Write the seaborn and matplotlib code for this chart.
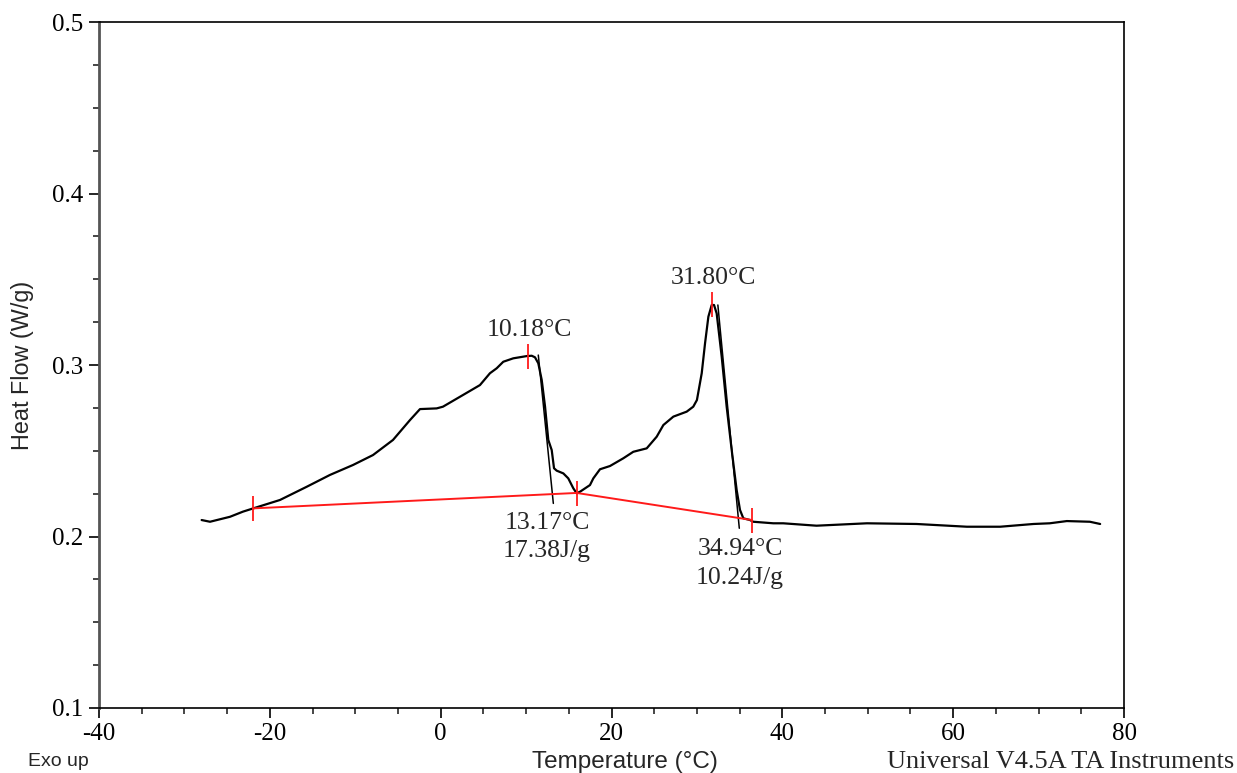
import numpy as np
import pandas as pd
import matplotlib
matplotlib.use("Agg")
import matplotlib.pyplot as plt
from matplotlib.ticker import MultipleLocator
import seaborn as sns

# DSC heating curve: temperature (°C) and heat flow (W/g)
temperature = [
    -27.98, -27.0, -24.66, -23.14, -21.94, -18.81, -15.68, -12.96, -10.26, -7.92,
    -5.58, -3.59, -2.42, -0.47, 0.27, 2.61, 4.60, 5.77, 6.56, 7.33,
    8.50, 10.07, 10.66, 11.04, 11.43, 11.83, 12.22, 12.60, 13.00, 13.27,
    13.58, 14.36, 14.94, 15.53, 15.92, 16.31, 17.48, 17.87, 18.65, 19.82,
    21.38, 22.55, 24.12, 25.29, 26.07, 27.24, 28.80, 29.57, 30.0, 30.56,
    30.95, 31.34, 31.73, 32.0, 32.31, 32.90, 33.48, 34.07, 34.65, 35.04,
    35.43, 36.21, 36.6, 38.94, 40.1, 44.0, 49.9, 55.7, 61.6, 65.5,
    69.4, 71.3, 73.3, 76.0, 77.2,
]
heat_flow = [
    0.2096, 0.2086, 0.2115, 0.2145, 0.2164, 0.2213, 0.2290, 0.2359, 0.2417, 0.2475,
    0.2563, 0.2679, 0.2743, 0.2747, 0.2757, 0.2825, 0.2883, 0.2952, 0.2981, 0.3019,
    0.3039, 0.3052, 0.3054, 0.3045, 0.3010, 0.2913, 0.2757, 0.2563, 0.2504, 0.2398,
    0.2384, 0.2368, 0.2339, 0.2281, 0.2252, 0.2261, 0.2300, 0.2339, 0.2392, 0.2411,
    0.2456, 0.2494, 0.2514, 0.2582, 0.2650, 0.2699, 0.2728, 0.2757, 0.2796, 0.2952,
    0.3127, 0.3282, 0.3350, 0.3350, 0.3301, 0.3048, 0.2757, 0.2504, 0.2271, 0.2155,
    0.2106, 0.2096, 0.2086, 0.2077, 0.2077, 0.2063, 0.2077, 0.2073, 0.2057, 0.2057,
    0.2073, 0.2077, 0.2090, 0.2086, 0.2073,
]

# Integration baseline (limits) for the two events
baseline_t = [-21.94, 15.92, 36.45]
baseline_hf = [0.2164, 0.2254, 0.2096]

# Leading-edge tangents used for the end-set temperatures
tangent1_t = [11.43, 13.19]
tangent1_hf = [0.3058, 0.2193]
tangent2_t = [32.45, 34.96]
tangent2_hf = [0.3350, 0.2048]

# Peak markers
peak_t = [10.18, 31.80]
peak_hf = [0.3052, 0.3356]

# Annotations
peak_labels = ["10.18°C", "31.80°C"]
endset_temp_labels = ["13.17°C", "34.94°C"]
enthalpy_labels = ["17.38J/g", "10.24J/g"]

sns.set_theme(style="ticks")
serif = ["Liberation Serif", "DejaVu Serif"]
sans = ["Liberation Sans", "DejaVu Sans"]

fig = plt.figure(figsize=(12.37, 7.73), dpi=100)
ax = fig.add_axes([0.080, 0.0841, 0.8287, 0.8874])

curve = pd.DataFrame({"T": temperature, "HF": heat_flow})
sns.lineplot(data=curve, x="T", y="HF", sort=False, color="black", lw=1.6, ax=ax)

# Baseline with limit markers
ax.plot(baseline_t, baseline_hf, color="#ff1a1a", lw=1.4, zorder=3)
ax.plot(baseline_t, baseline_hf, ls="none", marker="|", ms=18, mew=1.3,
        color="#ff1a1a", zorder=4)
ax.plot(peak_t, peak_hf, ls="none", marker="|", ms=18, mew=1.3,
        color="#ff1a1a", zorder=4)

ax.plot(tangent1_t, tangent1_hf, color="black", lw=1.1)
ax.plot(tangent2_t, tangent2_hf, color="black", lw=1.1)

fs = 18.5
ax.text(10.4, 0.3204, peak_labels[0], ha="center", va="center", fontsize=fs, family=serif)
ax.text(31.88, 0.3507, peak_labels[1], ha="center", va="center", fontsize=fs, family=serif)
ax.text(12.45, 0.2079, endset_temp_labels[0], ha="center", va="center", fontsize=fs, family=serif)
ax.text(12.45, 0.1915, enthalpy_labels[0], ha="center", va="center", fontsize=fs, family=serif)
ax.text(35.04, 0.1927, endset_temp_labels[1], ha="center", va="center", fontsize=fs, family=serif)
ax.text(35.04, 0.1758, enthalpy_labels[1], ha="center", va="center", fontsize=fs, family=serif)

ax.set_xlim(-40, 80)
ax.set_ylim(0.1, 0.5)
ax.xaxis.set_major_locator(MultipleLocator(20))
ax.xaxis.set_minor_locator(MultipleLocator(5))
ax.yaxis.set_major_locator(MultipleLocator(0.1))
ax.yaxis.set_minor_locator(MultipleLocator(0.025))
ax.tick_params(axis="both", which="major", length=7, width=1.2, direction="out",
               labelsize=18, colors="black", pad=4)
ax.tick_params(axis="both", which="minor", length=4.3, width=1.2, direction="out")
ax.tick_params(top=False, right=False, which="both")

ax.xaxis.set_major_formatter(plt.FuncFormatter(lambda v, p: f"{v:.0f}"))
ax.yaxis.set_major_formatter(plt.FuncFormatter(lambda v, p: f"{v:.1f}"))
for lab in ax.get_xticklabels() + ax.get_yticklabels():
    lab.set_family(serif)

for side in ["top", "right", "bottom"]:
    ax.spines[side].set_visible(True)
    ax.spines[side].set_color("black")
    ax.spines[side].set_linewidth(1.2)
ax.spines["left"].set_color("#555555")
ax.spines["left"].set_linewidth(2.0)

ax.set_xlabel("")
ax.set_ylabel("")
fig.text(22 / 1237, 1 - 365 / 773, "Heat Flow (W/g)", ha="center", va="center",
         rotation=90, fontsize=16.8, family=sans)
fig.text(625 / 1237, 1 - 762 / 773, "Temperature (°C)", ha="center", va="center",
         fontsize=17.5, family=sans)
fig.text(28 / 1237, 1 - 762 / 773, "Exo up", ha="left", va="center",
         fontsize=14, family=sans)
fig.text(1234 / 1237, 1 - 762 / 773, "Universal V4.5A TA Instruments", ha="right",
         va="center", fontsize=19, family=serif)

fig.savefig("out.png", dpi=100)
